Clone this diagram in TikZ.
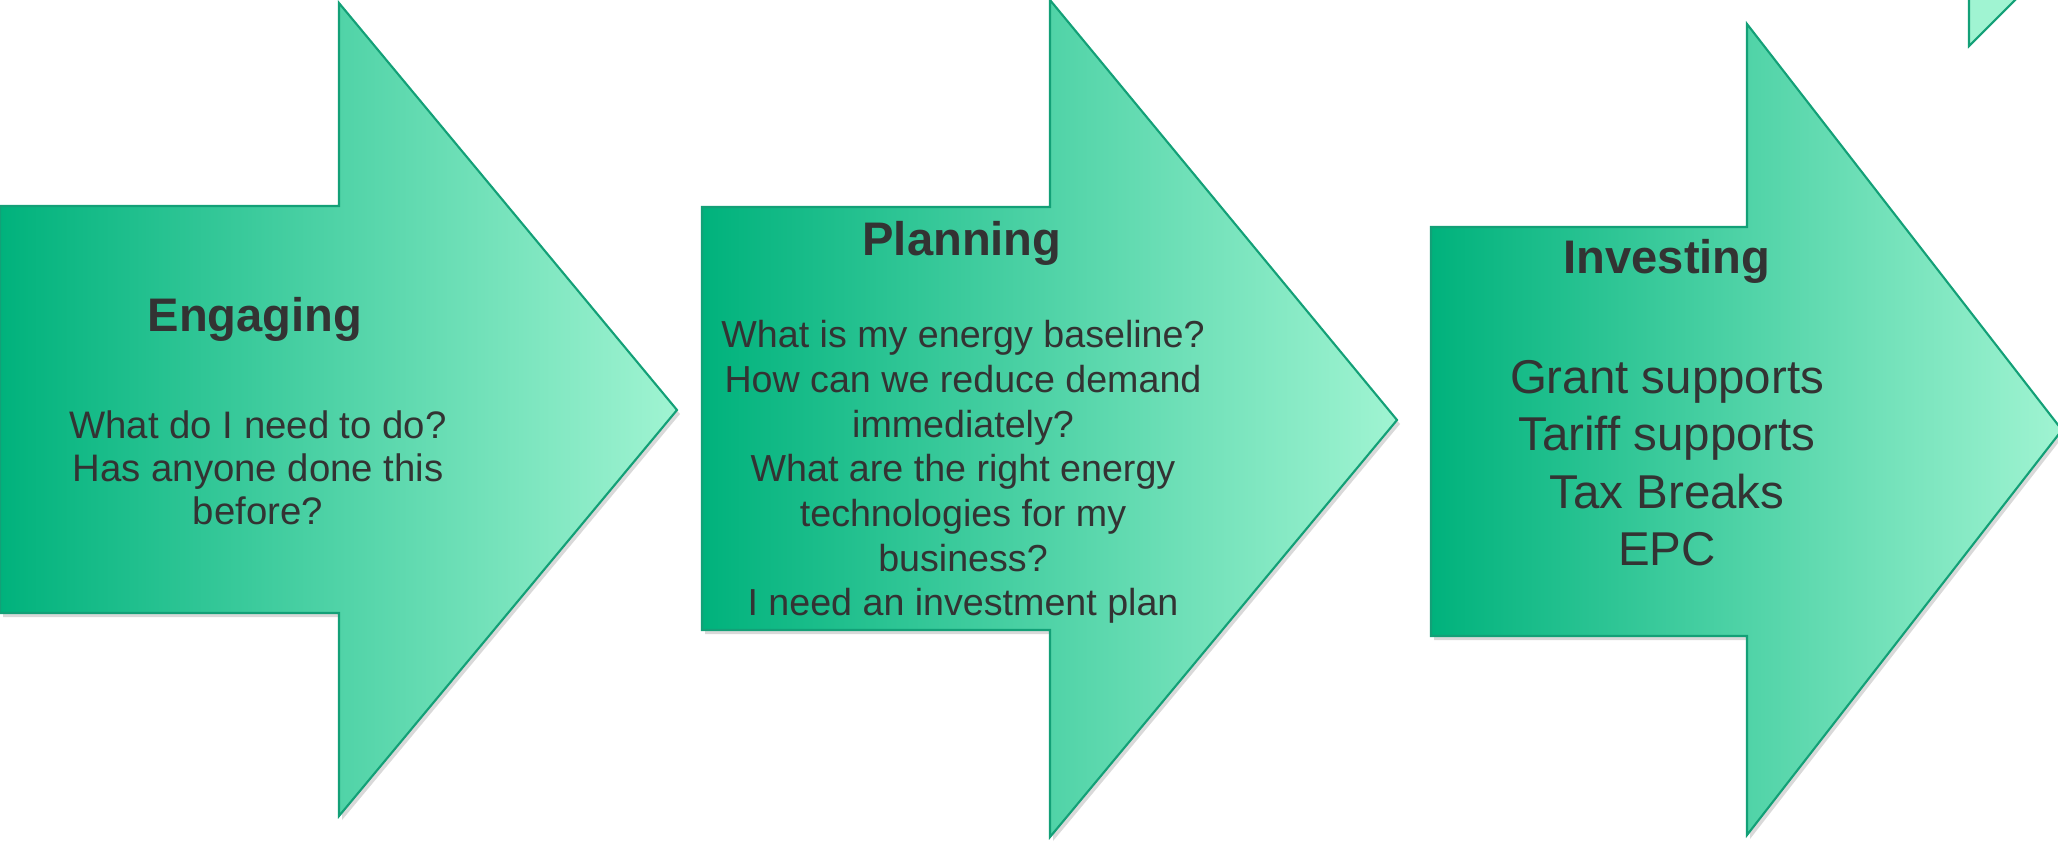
\documentclass[tikz,border=0pt]{standalone}
\usepackage{fontspec}
\setmainfont{Liberation Sans}
\usepackage{tikz}

\definecolor{darkmint}{HTML}{00B27C}
\definecolor{lightmint}{HTML}{A0F4D2}
\definecolor{mintline}{HTML}{13A077}
\definecolor{textgray}{HTML}{333333}

\begin{document}
\begin{tikzpicture}[x=0.01cm, y=-0.01cm,
        stage/.style={draw=mintline, line width=0.6pt, left color=darkmint, right color=lightmint},
        stageshadow/.style={fill=black, opacity=0.15},
        stagetitle/.style={font=\fontsize{13.4}{16}\selectfont\bfseries, text=textgray},
        stagetext/.style={align=center, text=textgray}]

        \useasboundingbox (0,0) rectangle (2058,841);

        % shadows
        \fill[stageshadow, shift={(3,4)}] (0,206) -- (339,206) -- (339,3) -- (677,410) -- (339,816) -- (339,613) -- (0,613) -- cycle;
        \fill[stageshadow, shift={(3,4)}] (702,207) -- (1050,207) -- (1050,0) -- (1397,420) -- (1050,837) -- (1050,630) -- (702,630) -- cycle;
        \fill[stageshadow, shift={(3,4)}] (1431,227) -- (1747,227) -- (1747,24) -- (2062,430) -- (1747,835) -- (1747,636) -- (1431,636) -- cycle;

        % the three stages
        \filldraw[stage] (0,206) -- (339,206) -- (339,3) -- (677,410) -- (339,816) -- (339,613) -- (0,613) -- cycle;
        \filldraw[stage] (702,207) -- (1050,207) -- (1050,0) -- (1397,420) -- (1050,837) -- (1050,630) -- (702,630) -- cycle;
        \filldraw[stage] (1431,227) -- (1747,227) -- (1747,24) -- (2062,430) -- (1747,835) -- (1747,636) -- (1431,636) -- cycle;

        % next stage, cut off at the corner
        \filldraw[draw=mintline, line width=0.6pt, fill=lightmint] (1969,-20) -- (1969,46) -- (2035,-20);

        \node[stagetitle] (engaging) at (255,319) {Engaging};
        \node[stagetext, font=\fontsize{10.9}{12.3}\selectfont] (engagingtxt) at (258,468)
            {What do I need to do?\\Has anyone done this\\before?};

        \node[stagetitle] (planning) at (962,243) {Planning};
        \node[stagetext, font=\fontsize{10.7}{12.7}\selectfont] (planningtxt) at (963,472)
            {What is my energy baseline?\\How can we reduce demand\\immediately?\\What are the right energy\\technologies for my\\business?\\I need an investment plan};

        \node[stagetitle] (investing) at (1667,261) {Investing};
        \node[stagetext, font=\fontsize{13.5}{16.3}\selectfont] (investingtxt) at (1667,463)
            {Grant supports\\Tariff supports\\Tax Breaks\\EPC};
\end{tikzpicture}
\end{document}
